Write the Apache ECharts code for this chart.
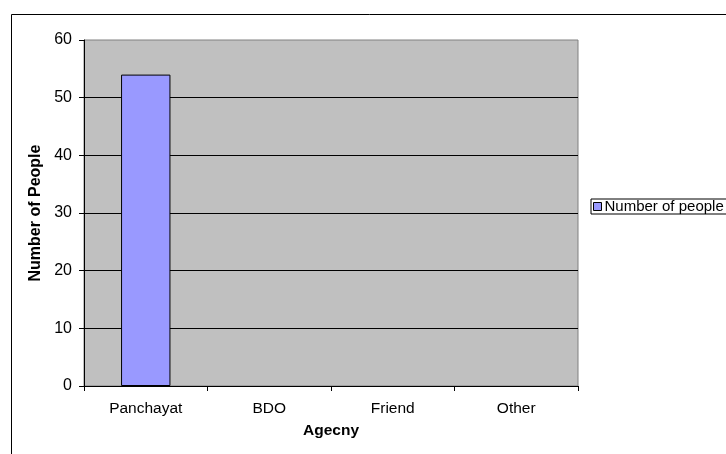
<!DOCTYPE html>
<html><head><meta charset="utf-8">
<script src="https://cdn.jsdelivr.net/npm/echarts@6/dist/echarts.min.js"></script>
<style>html,body{margin:0;padding:0;background:#fff}#c{width:726px;height:454px}</style>
</head><body><div id="c"></div>
<script>
const categories = ['Panchayat', 'BDO', 'Friend', 'Other'];
const peopleCounts = [54, 0, 0, 0];
const seriesName = 'Number of people';
const yTitle = 'Number of People';
const xTitle = 'Agecny';

const chart = echarts.init(document.getElementById('c'), null, {renderer: 'canvas'});
const font = 'Liberation Sans, Arial, sans-serif';
const barData = peopleCounts.map(v => v === 0 ? {value: v, itemStyle: {borderWidth: 0, opacity: 0}} : v);
chart.setOption({
  animation: false,
  backgroundColor: '#fff',
  textStyle: {fontFamily: font},
  graphic: [{
    type: 'rect', z: -10,
    shape: {x: 11.5, y: 14.5, width: 800, height: 600},
    style: {fill: '#fff', stroke: '#000', lineWidth: 1}
  }],
  grid: {left: 84, top: 40, width: 494, height: 346, show: true,
    backgroundColor: '#C0C0C0', borderColor: '#808080', borderWidth: 1, containLabel: false},
  legend: {
    left: 591, top: 199, orient: 'vertical',
    itemWidth: 8, itemHeight: 8, itemGap: 0,
    borderColor: '#000', borderWidth: 1, padding: [0, 20, 0, 2],
    icon: 'rect',
    textStyle: {fontFamily: font, fontSize: 15, color: '#000', padding: [2, 0, 0, -2]},
    data: [{name: seriesName, itemStyle: {borderColor: '#000', borderWidth: 1}}]
  },
  xAxis: {
    type: 'category', data: categories,
    name: xTitle, nameLocation: 'middle', nameGap: 37,
    nameTextStyle: {fontWeight: 'bold', fontSize: 15.5, color: '#000', fontFamily: font},
    axisLine: {lineStyle: {color: '#000', width: 1}},
    axisTick: {show: true, length: 5, lineStyle: {color: '#000'}},
    axisLabel: {color: '#000', fontSize: 15.5, margin: 15, fontFamily: font},
    splitLine: {show: false}
  },
  yAxis: {
    type: 'value', min: 0, max: 60, interval: 10,
    name: yTitle, nameLocation: 'middle', nameGap: 36,
    nameTextStyle: {fontWeight: 'bold', fontSize: 16, color: '#000', fontFamily: font},
    axisLine: {show: true, lineStyle: {color: '#000', width: 1}},
    axisTick: {show: true, length: 5, lineStyle: {color: '#000'}},
    axisLabel: {color: '#000', fontSize: 16, margin: 12, fontFamily: font},
    splitLine: {show: true, showMaxLine: false, lineStyle: {color: '#000', width: 1}}
  },
  series: [{
    name: seriesName, type: 'bar', data: barData, barWidth: '40%',
    itemStyle: {color: '#9999FF', borderColor: '#000', borderWidth: 1}
  }]
});
</script></body></html>
